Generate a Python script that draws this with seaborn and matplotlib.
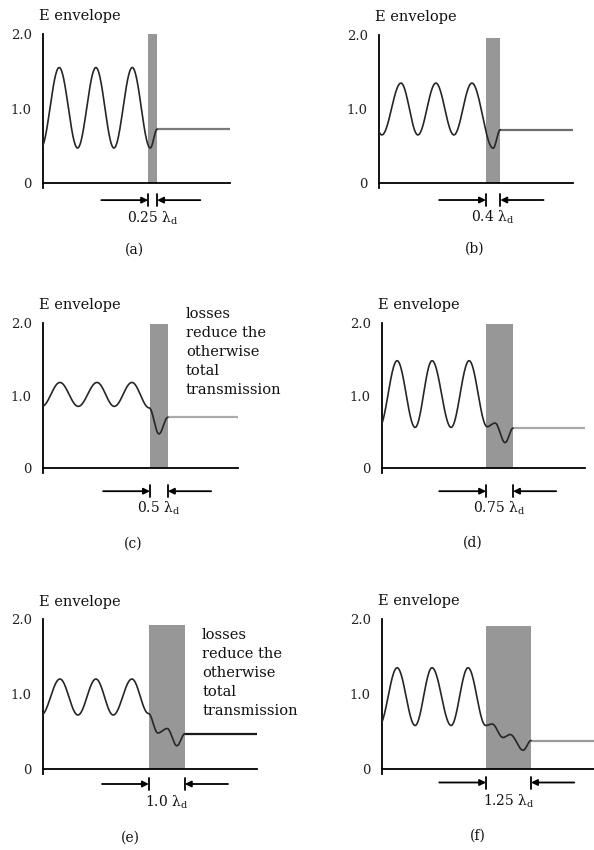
import numpy as np
import pandas as pd
import matplotlib
matplotlib.use("Agg")
import matplotlib.pyplot as plt
import seaborn as sns

# ---- data -----------------------------------------------------------------
# slab thickness in dielectric wavelengths and where the slab begins (in λd)
thickness = [0.25, 0.4, 0.5, 0.75, 1.0, 1.25]
thickness_labels = ["0.25", "0.4", "0.5", "0.75", "1.0", "1.25"]
slab_start = [2.92, 2.97, 2.97, 2.89, 2.94, 2.89]
slab_top = [2.0, 1.96, 1.98, 1.99, 1.92, 1.91]
transmitted = [0.72, 0.72, 0.70, 0.55, 0.47, 0.38]
axis_end = [5.2, 5.4, 5.42, 5.64, 5.94, 5.9]
panel_tags = ["(a)", "(b)", "(c)", "(d)", "(e)", "(f)"]

# extrema of the field envelope in front of and inside the slab
env_x_a = [-0.06, 0.45, 0.96, 1.47, 1.97, 2.48, 2.98, 3.17]
env_y_a = [0.47, 1.55, 0.47, 1.55, 0.47, 1.55, 0.47, 0.72]
env_x_b = [-0.42, 0.08, 0.61, 1.08, 1.58, 2.08, 2.58, 3.17, 3.37]
env_y_b = [1.35, 0.65, 1.35, 0.65, 1.35, 0.65, 1.35, 0.47, 0.72]
env_x_c = [-0.03, 0.47, 0.98, 1.50, 1.98, 2.47, 2.95, 3.22, 3.47]
env_y_c = [0.85, 1.18, 0.85, 1.18, 0.85, 1.18, 0.83, 0.47, 0.70]
env_x_d = [-0.08, 0.42, 0.92, 1.39, 1.92, 2.42, 2.92, 3.14, 3.42, 3.64]
env_y_d = [0.56, 1.48, 0.56, 1.48, 0.56, 1.48, 0.57, 0.62, 0.35, 0.55]
env_x_e = [-0.05, 0.47, 0.97, 1.47, 1.95, 2.47, 2.93, 3.19, 3.45, 3.72, 3.94]
env_y_e = [0.72, 1.20, 0.72, 1.20, 0.72, 1.20, 0.74, 0.48, 0.54, 0.31, 0.47]
env_x_f = [-0.08, 0.42, 0.92, 1.39, 1.92, 2.39, 2.88, 3.06, 3.36, 3.56, 3.92, 4.14]
env_y_f = [0.58, 1.35, 0.58, 1.35, 0.58, 1.35, 0.58, 0.60, 0.42, 0.46, 0.25, 0.38]

env_x = [env_x_a, env_x_b, env_x_c, env_x_d, env_x_e, env_x_f]
env_y = [env_y_a, env_y_b, env_y_c, env_y_d, env_y_e, env_y_f]

loss_note = "losses\nreduce the\notherwise\ntotal\ntransmission"
ytick_vals = [0, 1.0, 2.0]
ytick_text = ["0", "1.0", "2.0"]

# ---- layout (pixels on a 594 x 850 canvas) ----------------------------------
W, H = 594, 850
PX_PER_LD = 36.0
origin_px = [(43, 183), (379, 183), (43, 468), (382, 468), (43, 769), (382, 769)]
py_per_unit = [74.5, 74.0, 72.5, 72.5, 75.0, 75.0]
row_arrow_y = [-0.23, -0.23, -0.32, -0.32, -0.20, -0.18]
row_label_y = [-0.47, -0.47, -0.55, -0.55, -0.45, -0.43]
row_tag_y = [-0.89, -0.89, -1.05, -1.03, -0.92, -0.89]
title_y = [2.24, 2.24, 2.25, 2.25, 2.23, 2.24]
tag_x = [2.55, 2.67, 2.50, 2.53, 2.42, 2.67]
note_pos = {2: (3.97, 2.22), 4: (4.42, 1.88)}
trans_color = ["#7a7a7a", "#6e6e6e", "#aaaaaa", "#aaaaaa", "#1a1a1a", "#9a9a9a"]

YMIN, YMAX = -0.1, 2.3
SERIF = "DejaVu Serif"

sns.set_theme(style="white")
plt.rcParams["font.family"] = [SERIF]
plt.rcParams["mathtext.fontset"] = "dejavuserif"


def eased(xk, yk, n=40):
    """Smooth curve through successive extrema (half-cosine between points)."""
    xs, ys = [], []
    for i in range(len(xk) - 1):
        t = np.linspace(0, 1, n, endpoint=False)
        w = (1 - np.cos(np.pi * t)) / 2
        xs.append(xk[i] + (xk[i + 1] - xk[i]) * t)
        ys.append(yk[i] + (yk[i + 1] - yk[i]) * w)
    xs.append([xk[-1]])
    ys.append([yk[-1]])
    return np.concatenate(xs), np.concatenate(ys)


fig = plt.figure(figsize=(W / 100, H / 100), dpi=100)
fig.patch.set_facecolor("white")

for i in range(6):
    x0, y0 = origin_px[i]
    sy = py_per_unit[i]
    xe = axis_end[i]
    left = x0 / W
    bottom = (H - (y0 - YMIN * sy)) / H
    ax = fig.add_axes([left, bottom, PX_PER_LD * xe / W, sy * (YMAX - YMIN) / H])
    ax.set_xlim(0, xe)
    ax.set_ylim(YMIN, YMAX)
    ax.set_facecolor("none")

    # dielectric slab
    s = slab_start[i]
    t = thickness[i]
    ax.fill_between([s, s + t], 0, slab_top[i], color="#979797", lw=0, zorder=1)

    # envelope in front of / inside the slab
    cx, cy = eased(env_x[i], env_y[i])
    df = pd.DataFrame({"x": cx, "y": cy})
    sns.lineplot(data=df, x="x", y="y", sort=False, estimator=None,
                 color="#262626", lw=1.2, ax=ax, zorder=3)

    # transmitted level
    tf = pd.DataFrame({"x": [s + t, xe], "y": [transmitted[i], transmitted[i]]})
    sns.lineplot(data=tf, x="x", y="y", sort=False, estimator=None,
                 color=trans_color[i], lw=1.6, ax=ax, zorder=2)

    # axes styling
    for side in ("top", "right"):
        ax.spines[side].set_visible(False)
    ax.spines["left"].set_bounds(-0.07, 2.0)
    ax.spines["bottom"].set_bounds(0, xe)
    ax.spines["left"].set_position(("data", 0))
    ax.spines["bottom"].set_position(("data", 0))
    for side in ("left", "bottom"):
        ax.spines[side].set_color("black")
        ax.spines[side].set_linewidth(1.3)
    ax.set_xticks([])
    ax.set_yticks(ytick_vals)
    ax.set_yticklabels(ytick_text)
    ax.tick_params(axis="y", direction="inout", length=8, width=1.2,
                   color="black", pad=4, labelsize=9.5, labelcolor="#222222")
    ax.set_xlabel("")
    ax.set_ylabel("")

    ax.text(-0.1, title_y[i], "E envelope", ha="left", va="center",
            fontsize=10.5, color="#111111")

    # thickness dimension arrows
    ya = row_arrow_y[i]
    arrow = dict(arrowstyle="-|>", color="black", lw=1.3, mutation_scale=9,
                 shrinkA=0, shrinkB=0)
    ax.annotate("", xy=(s, ya), xytext=(s - 1.3, ya), arrowprops=arrow,
                annotation_clip=False)
    ax.annotate("", xy=(s + t, ya), xytext=(s + t + 1.2, ya), arrowprops=arrow,
                annotation_clip=False)
    for xb in (s, s + t):
        ax.plot([xb, xb], [ya - 0.08, ya + 0.08], color="black", lw=1.3,
                clip_on=False)
    ax.text(s + t / 2, row_label_y[i],
            thickness_labels[i] + " λ$_{\\mathrm{d}}$",
            ha="center", va="center", fontsize=10, color="#111111")
    ax.text(tag_x[i], row_tag_y[i], panel_tags[i], ha="center", va="center",
            fontsize=10, color="#111111")

    if i in note_pos:
        nx, ny = note_pos[i]
        ax.text(nx, ny, loss_note, ha="left", va="top", fontsize=10.5,
                linespacing=1.45, color="#111111")

fig.savefig("out.png", dpi=100, facecolor="white")
